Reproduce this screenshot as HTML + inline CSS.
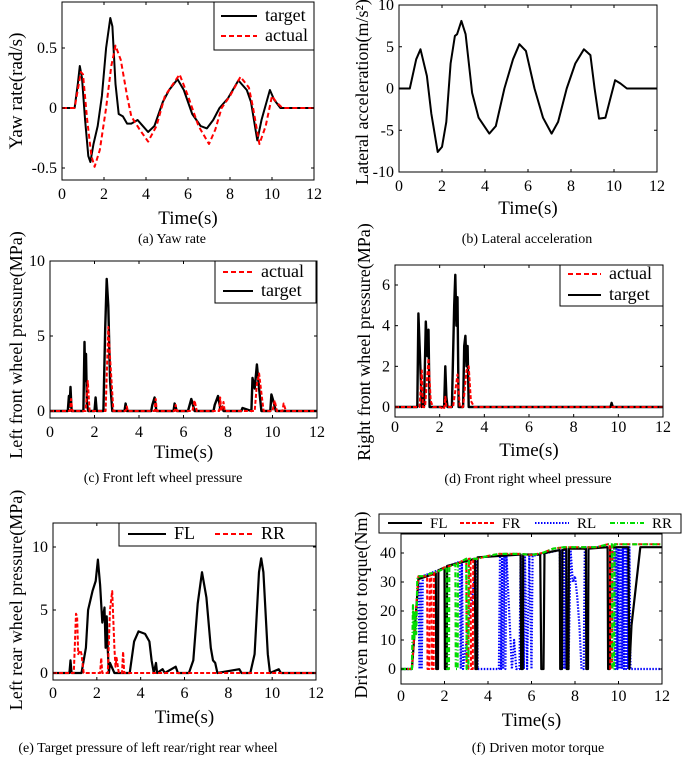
<!DOCTYPE html>
<html><head><meta charset="utf-8"><style>
body{margin:0;background:#fff;}
svg{display:block;font-family:"Liberation Serif",serif;}
</style></head><body>
<svg id="fig" width="685" height="760" viewBox="0 0 685 760" xmlns="http://www.w3.org/2000/svg"></svg>
<script>
// ---- data (time in s) ----
const yawT_t=[0,0.6,0.75,0.85,0.95,1.1,1.25,1.35,1.5,1.7,1.9,2.1,2.3,2.4,2.55,2.7,2.9,3.1,3.3,3.6,3.8,4.1,4.4,4.8,5.1,5.5,5.8,6.2,6.6,6.9,7.2,7.5,7.9,8.4,8.8,9.0,9.3,9.5,9.9,10.1,10.4,12];
const yawT_v=[0,0,0.2,0.35,0.25,-0.1,-0.4,-0.45,-0.3,-0.15,0.1,0.5,0.75,0.68,0.2,-0.05,-0.07,-0.13,-0.13,-0.1,-0.14,-0.2,-0.15,0.05,0.15,0.24,0.15,-0.05,-0.15,-0.17,-0.1,0,0.08,0.23,0.15,0.05,-0.27,-0.1,0.15,0.07,0,0];
const yawA_t=[0,0.6,0.9,1.0,1.2,1.4,1.55,1.8,2.1,2.35,2.55,2.8,3.1,3.3,3.7,4.1,4.5,4.9,5.6,6.0,6.5,7.0,7.3,7.6,8.0,8.5,8.9,9.1,9.4,9.7,10.0,10.2,10.5,12];
const yawA_v=[0,0,0.3,0.28,-0.1,-0.4,-0.49,-0.35,0,0.35,0.52,0.4,0.1,-0.07,-0.18,-0.28,-0.15,0.1,0.28,0.1,-0.15,-0.3,-0.18,0,0.1,0.26,0.17,0,-0.3,-0.15,0.1,0.05,0,0];
const lat_t=[0,0.5,0.8,1.0,1.3,1.5,1.8,2.0,2.2,2.4,2.6,2.7,2.9,3.1,3.4,3.7,4.2,4.5,4.9,5.3,5.6,5.9,6.3,6.7,7.1,7.4,7.8,8.2,8.6,8.9,9.1,9.3,9.6,9.8,10.05,10.3,10.6,12];
const lat_v=[0,0,3.5,4.7,1.5,-3,-7.6,-7,-4,3,6.3,6.5,8.1,6.5,-0.5,-3.5,-5.4,-4.5,0,3.5,5.3,4.5,0,-3.5,-5.4,-4,0,3,4.7,4,0,-3.6,-3.5,-1.5,1,0.6,0,0];
const lfT_t=[0,0.8,0.85,0.88,0.92,0.97,1.5,1.55,1.58,1.62,1.66,1.72,2.0,2.05,2.1,2.4,2.48,2.55,2.62,2.7,2.8,3.35,3.4,3.45,4.55,4.6,4.7,4.78,5.55,5.6,5.7,6.2,6.35,6.5,7.35,7.4,7.55,7.65,7.75,7.8,8.6,8.65,9.05,9.1,9.2,9.3,9.4,9.5,9.9,9.95,10.05,10.15,12];
const lfT_v=[0,0,1,0.3,1.6,0,0,4.6,2,3.8,0.5,0,0,0.9,0,0,5.5,8.8,7,2,0,0,0.5,0,0,0.4,0.9,0,0,0.5,0,0,0.8,0,0,0.4,1.0,0.2,0.3,0,0,0.2,0,2.2,1.5,3.1,1.5,0,0,1.1,0.6,0,0];
const lfA_t=[0,0.9,0.95,1.0,1.6,1.7,1.78,2.5,2.62,2.7,2.85,3.4,3.45,3.5,4.7,4.75,4.8,5.6,5.65,5.7,6.4,6.5,6.6,7.6,7.65,7.7,7.8,7.85,9.2,9.3,9.4,9.5,9.6,10.0,10.1,10.2,10.45,10.5,10.6,12];
const lfA_v=[0,0,0.8,0,0,2,0,0,5.6,3.5,0,0,0.3,0,0,0.8,0,0,0.4,0,0,0.7,0,0,0.9,0,0.6,0,0,1.8,2.5,1.2,0,0,0.7,0,0,0.5,0,0];
const rfT_t=[0,1.0,1.05,1.1,1.2,1.25,1.3,1.38,1.45,1.5,1.55,2.2,2.25,2.3,2.35,2.55,2.65,2.7,2.75,2.8,2.85,3.05,3.1,3.15,3.2,3.25,3.3,9.65,9.7,9.75,12];
const rfT_v=[0,0,4.6,3,0,0.5,0,4.2,2.5,3.8,0,0,2,0.5,0,0,5,6.5,4,5.4,0,0,3,3.5,2,3,0,0,0.2,0,0];
const rfA_t=[0,1.1,1.2,1.25,1.35,1.5,1.6,1.7,2.0,2.2,2.25,2.3,2.6,2.75,2.8,2.9,3.05,3.2,3.3,3.4,3.55,12];
const rfA_v=[0,0,1.8,0,0,2.4,0.3,0,0,-0.1,0.5,0,0,1.2,1.6,0,0,1.8,2.0,0.3,0,0];
const rFL_t=[0,0.75,0.8,0.85,1.3,1.5,1.6,1.8,1.95,2.05,2.15,2.25,2.35,2.4,2.45,2.5,2.55,2.6,2.8,3.5,3.7,3.9,4.2,4.4,4.5,4.6,4.7,4.75,5.0,5.1,5.6,5.7,6.2,6.4,6.6,6.8,7.0,7.2,7.3,7.4,7.5,8.5,8.6,9.0,9.2,9.4,9.5,9.6,9.8,9.9,10.3,10.4,12];
const rFL_v=[0,0,1,0,0,2,5,6.5,7.3,9,7,4,5.2,2,4.5,1.8,0,0.8,0,0,2.5,3.3,3.1,2.5,1,0,0.8,0,0.3,0,0.5,0,0,1,5.5,8,6,2,1,0.8,0,0.3,0,0,1.5,8,9.1,8,1.5,0,0.3,0,0];
const rRR_t=[0,0.95,1.05,1.1,1.15,1.25,1.3,1.4,1.45,2.15,2.2,2.25,2.5,2.6,2.7,2.8,2.85,2.9,3.0,3.15,3.2,3.25,12];
const rRR_v=[0,0,4.7,4.5,1.5,1.8,1.5,0,0,0,1.2,0,0,5,6.5,2,0.5,1.2,0,0,1.7,0,0];
const mFL_t=[0,0.5,0.8,1.6,1.62,1.7,1.72,2.0,2.02,2.1,2.12,3.4,3.42,3.5,3.52,5.5,5.52,5.6,5.62,6.4,6.45,6.55,6.6,7.3,7.32,7.4,7.42,7.6,7.62,7.7,7.72,8.5,8.52,8.6,8.62,9.5,9.52,9.6,9.62,10.45,10.5,10.6,11.0,12];
const mFL_v=[0,0,31,33,0,0,34,35,0,0,35.5,38,0,0,38.5,39.5,0,0,39.5,39.5,0,0,40,41,0,0,41,41.5,0,0,41.5,41.5,0,0,41.5,42,0,0,42,42,0,15,42,42];
const mFR_t=[0,0.5,0.8,1.2,1.22,1.3,1.32,1.4,1.42,1.5,1.52,2.0,2.5,3.0,3.02,3.1,3.12,3.2,3.22,3.3,3.32,3.5,4.0,4.5,5.5,6.0,6.5,7.0,7.5,8.5,9.0,9.5,9.6,9.62,9.7,9.72,12];
const mFR_v=[0,0,32,32,0,0,32.5,32.5,0,0,33,35,36,38,0,0,38,38,0,0,38,38,39,39.7,39.7,39.3,40,41.5,42,42,42,43,43,0,0,43,43];
const mRL_t=[0,0.5,0.8,0.85,0.9,0.95,1.0,2.7,2.75,2.8,2.85,3.5,3.52,4.5,4.55,4.6,4.65,4.7,4.75,4.8,4.85,5.1,5.2,5.3,5.45,5.5,5.55,5.6,5.65,5.7,5.8,5.9,6.0,6.05,7.3,7.35,7.4,7.45,7.5,7.55,7.6,7.7,7.8,7.9,8.0,8.1,8.2,8.3,8.4,8.45,9.5,9.8,9.85,9.9,9.95,10.0,10.05,10.1,10.15,10.2,10.25,10.3,10.35,10.4,10.45,10.5,10.55,12];
const mRL_v=[0,0,30,0,30,0,32,37,0,37,0,38,0,0,39,0,39,0,39,0,39,0,10,0,0,39,0,39,0,39,0,39,0,39,41,0,41,0,41,0,41,0,41,30,32,25,15,0,0,42,42,42,0,42,0,42,0,42,0,42,0,42,0,42,0,42,0,0];
const mRR_t=[0,0.5,0.55,0.6,0.65,0.7,0.75,0.8,1.0,1.8,2.1,2.12,2.2,2.22,2.5,2.52,2.6,2.62,3.0,3.02,3.1,3.12,3.5,4.0,4.5,5.5,6.0,6.5,7.0,7.5,8.5,9.0,9.5,9.7,9.72,9.8,9.82,12];
const mRR_v=[0,0,22,10,20,12,31,32,32,34,35,0,0,35.5,36,0,0,36.5,38,0,0,38,38,39,39.7,39.7,39.3,40,41.5,42,42,42,43,43,0,0,43,43];
const xTicks=[0,2,4,6,8,10,12];

const NS="http://www.w3.org/2000/svg";
const svg=document.getElementById('fig');
function mk(tag,attrs,parent){const e=document.createElementNS(NS,tag);for(const k in attrs)e.setAttribute(k,attrs[k]);(parent||svg).appendChild(e);return e;}
function txt(s,x,y,size,anchor,parent,rot){const t=mk('text',{x:x,y:y,'font-size':size,'text-anchor':anchor||'middle',fill:'#000'},parent);if(rot)t.setAttribute('transform','rotate(-90 '+x+' '+y+')');t.textContent=s;return t;}

function panel(p){
  const g=mk('g',{});
  
  
  const sx=t=>p.x0+(p.x1-p.x0)*t/12;
  const sy=v=>p.yp0+(p.yp1-p.yp0)*(v-p.yv0)/(p.yv1-p.yv0);
  const cid='clip-'+p.name;
  const cp=mk('clipPath',{id:cid},g);mk('rect',{x:p.x0,y:p.top,width:p.x1-p.x0,height:p.bot-p.top},cp);
  const dg=mk('g',{'clip-path':'url(#'+cid+')'},g);
  p.series.forEach(s=>{
    const pts=s.t.map((t,i)=>sx(t).toFixed(1)+','+sy(s.v[i]).toFixed(1)).join(' ');
    const pl=mk('polyline',{points:pts,fill:'none',stroke:s.c,'stroke-width':s.w||2,'stroke-dasharray':s.d||'none','stroke-linejoin':'round'},dg);
    
    
  });
  const box=mk('rect',{x:p.x0,y:p.top,width:p.x1-p.x0,height:p.bot-p.top,fill:'none',stroke:'#000','stroke-width':1},g);
  
  
  xTicks.forEach(t=>{const x=sx(t);mk('line',{x1:x,x2:x,y1:p.bot,y2:p.bot-3,stroke:'#000'},g);mk('line',{x1:x,x2:x,y1:p.top,y2:p.top+3,stroke:'#000'},g);
    const l=txt(String(t),x,p.bot+p.xlOff,16,'middle',g);});
  p.yTicks.forEach(v=>{const y=sy(v);mk('line',{x1:p.x0,x2:p.x0+3,y1:y,y2:y,stroke:'#000'},g);mk('line',{x1:p.x1,x2:p.x1-3,y1:y,y2:y,stroke:'#000'},g);
    const l=txt(String(v),p.x0-5,y+5,16,'end',g);});
  const xt=txt('Time(s)',(p.x0+p.x1)/2,p.xtY,19,'middle',g);
  const yt=txt(p.ylab,p.ylX,p.ylY,p.ylS||18,'middle',g,true);
  const cap=txt(p.cap,p.capX,p.capY,14,'middle',g);
  if(p.legend){const L=p.legend;const lg=mk('g',{},g);
    
    mk('rect',{x:L.x,y:L.y,width:L.w,height:L.h,fill:'#fff',stroke:'#000'},lg);
    L.items.forEach(it=>{const e=mk('g',{},lg);
      
      mk('line',{x1:it.x,x2:it.x+L.len,y1:it.y,y2:it.y,stroke:it.c,'stroke-width':2,'stroke-dasharray':it.d||'none'},e);
      txt(it.s,it.x+L.len+8,it.y+5,L.fs,'start',e);});
  }
}
panel({name:'yaw-rate-chart',x0:62,x1:314,top:2,bot:180,yv0:0.5,yp0:48,yv1:-0.5,yp1:168,yTicks:[-0.5,0,0.5],xlOff:19,xtY:224,ylab:'Yaw rate(rad/s)',ylX:22,ylY:91,ylS:19,cap:'(a)  Yaw rate',capX:172,capY:243,
 series:[{name:'target-line',t:yawT_t,v:yawT_v,c:'#000'},{name:'actual-line',t:yawA_t,v:yawA_v,c:'#f00',d:'5,3'}],
 legend:{x:214,y:2,w:100,h:48,len:36,fs:18,items:[{s:'target',x:221,y:16,c:'#000'},{s:'actual',x:221,y:36,c:'#f00',d:'5,3'}]}});
panel({name:'lateral-acceleration-chart',x0:399,x1:657,top:5,bot:172,yv0:10,yp0:5,yv1:-10,yp1:172,yTicks:[-10,-5,0,5,10],xlOff:19,xtY:214,ylab:'Lateral acceleration(m/s²)',ylX:368,ylY:92,cap:'(b)  Lateral acceleration',capX:527,capY:243,
 series:[{name:'lateral-acceleration-line',t:lat_t,v:lat_v,c:'#000'}]});
panel({name:'front-left-pressure-chart',x0:50,x1:317,top:261,bot:418,yv0:10,yp0:261,yv1:0,yp1:411,yTicks:[0,5,10],xlOff:19,xtY:458,ylab:'Left front wheel pressure(MPa)',ylX:22,ylY:345,cap:'(c)  Front left wheel pressure',capX:163,capY:482,
 series:[{name:'target-line',t:lfT_t,v:lfT_v,c:'#000',w:2.4},{name:'actual-line',t:lfA_t,v:lfA_v,c:'#f00',d:'4,2'}],
 legend:{x:215,y:261,w:101,h:42,len:30,fs:18,items:[{s:'actual',x:223,y:272,c:'#f00',d:'5,3'},{s:'target',x:223,y:291,c:'#000'}]}});
panel({name:'front-right-pressure-chart',x0:395,x1:663,top:265,bot:417,yv0:6,yp0:285,yv1:0,yp1:407,yTicks:[0,2,4,6],xlOff:15,xtY:456,ylab:'Right front wheel pressure(MPa)',ylX:370,ylY:342,cap:'(d) Front right wheel pressure',capX:528,capY:483,
 series:[{name:'target-line',t:rfT_t,v:rfT_v,c:'#000',w:2.4},{name:'actual-line',t:rfA_t,v:rfA_v,c:'#f00',d:'4,2'}],
 legend:{x:560,y:265,w:103,h:41,len:33,fs:18,items:[{s:'actual',x:568,y:274,c:'#f00',d:'5,3'},{s:'target',x:568,y:295,c:'#000'}]}});
panel({name:'rear-pressure-chart',x0:53,x1:316,top:523,bot:680,yv0:10,yp0:547,yv1:0,yp1:673,yTicks:[0,5,10],xlOff:18,xtY:723,ylab:'Left rear wheel pressure(MPa)',ylX:22,ylY:600,cap:'(e) Target pressure of left rear/right rear wheel',capX:148,capY:752,
 series:[{name:'fl-line',t:rFL_t,v:rFL_v,c:'#000',w:2.2},{name:'rr-line',t:rRR_t,v:rRR_v,c:'#f00',d:'4,2'}],
 legend:{x:119,y:523,w:197,h:23,len:38,fs:18,items:[{s:'FL',x:128,y:534,c:'#000'},{s:'RR',x:215,y:534,c:'#f00',d:'5,3'}]}});
panel({name:'motor-torque-chart',x0:401,x1:662,top:534,bot:684,yv0:40,yp0:553,yv1:0,yp1:669,yTicks:[0,10,20,30,40],xlOff:17,xtY:726,ylab:'Driven motor torque(Nm)',ylX:367,ylY:605,cap:'(f) Driven motor torque',capX:538,capY:752,
 series:[{name:'rl-line',t:mRL_t,v:mRL_v,c:'#00f',d:'1.5,1.5',w:2.2},{name:'fl-line',t:mFL_t,v:mFL_v,c:'#000',w:2.2},{name:'fr-line',t:mFR_t,v:mFR_v,c:'#f00',d:'4,2'},{name:'rr-line',t:mRR_t,v:mRR_v,c:'#0d0',d:'5,2,1,2',w:2.2}],
 legend:{x:379,y:514,w:302,h:19,len:34,fs:15,items:[{s:'FL',x:388,y:523,c:'#000'},{s:'FR',x:460,y:523,c:'#f00',d:'4,2'},{s:'RL',x:535,y:523,c:'#00f',d:'1.5,1.5'},{s:'RR',x:610,y:523,c:'#0d0',d:'5,2,1,2'}]}});
</script>
</body></html>
